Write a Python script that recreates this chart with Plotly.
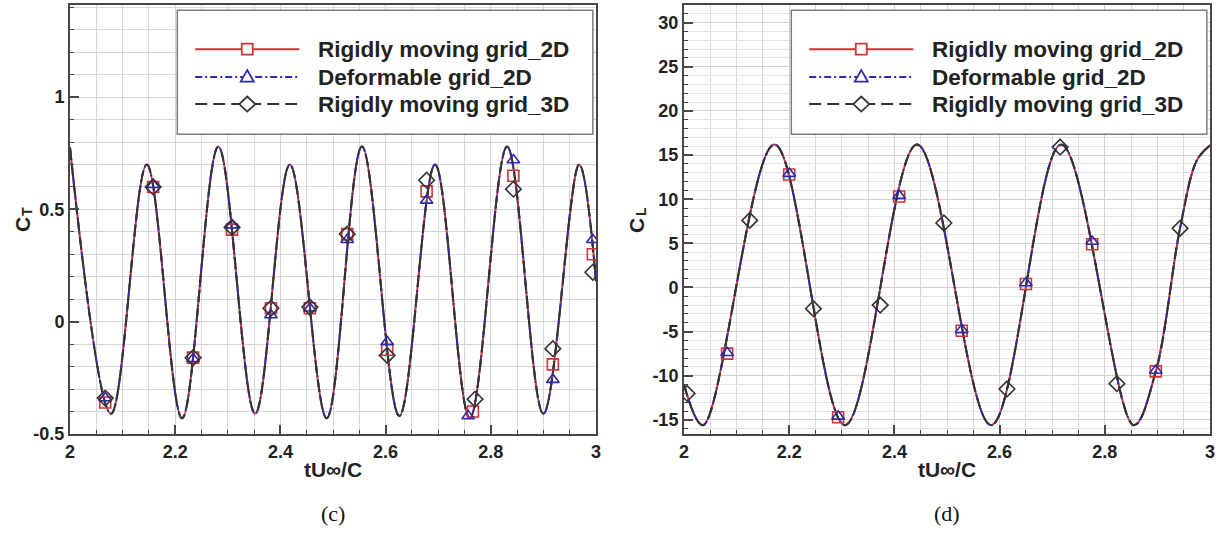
import plotly.graph_objects as go

# ---------------- data: panel (c), thrust coefficient ----------------
ct_curve_t = [2.000, 2.078, 2.146, 2.213, 2.282, 2.352, 2.418, 2.488,
              2.555, 2.626, 2.694, 2.760, 2.831, 2.900, 2.968, 3.000]
ct_curve = [0.775, -0.41, 0.70, -0.43, 0.78, -0.41, 0.70, -0.43,
            0.78, -0.42, 0.70, -0.43, 0.78, -0.41, 0.70, 0.18]

ct_t_rigid_2d = [2.067, 2.158, 2.234, 2.308, 2.382, 2.456, 2.527, 2.603, 2.678, 2.766, 2.843, 2.918, 2.994]
ct_rigid_2d = [-0.36, 0.60, -0.16, 0.41, 0.06, 0.06, 0.39, -0.125, 0.58, -0.40, 0.65, -0.19, 0.30]
ct_t_deform_2d = [2.067, 2.158, 2.234, 2.308, 2.382, 2.456, 2.527, 2.603, 2.678, 2.757, 2.843, 2.918, 2.994]
ct_deform_2d = [-0.34, 0.61, -0.165, 0.43, 0.03, 0.06, 0.365, -0.09, 0.54, -0.42, 0.72, -0.258, 0.365]
ct_t_rigid_3d = [2.067, 2.158, 2.234, 2.308, 2.382, 2.456, 2.527, 2.603, 2.678, 2.770, 2.843, 2.918, 2.994]
ct_rigid_3d = [-0.34, 0.60, -0.16, 0.42, 0.06, 0.065, 0.39, -0.15, 0.63, -0.345, 0.59, -0.12, 0.22]

# ---------------- data: panel (d), lift coefficient ----------------
cl_curve_t = [2.000, 2.036, 2.172, 2.306, 2.443, 2.584, 2.717, 2.855, 2.897, 2.943, 2.975, 3.000]
cl_curve = [-11.0, -15.6, 16.2, -15.6, 16.2, -15.6, 16.2, -15.6, -9.5, 6.7, 14.4, 16.1]

cl_t_2d = [2.082, 2.200, 2.293, 2.409, 2.528, 2.650, 2.776, 2.897]
cl_rigid_2d = [-7.5, 12.8, -14.7, 10.3, -4.9, 0.4, 4.9, -9.5]
cl_deform_2d = [-7.4, 12.9, -14.6, 10.4, -4.8, 0.5, 5.2, -9.4]
cl_t_3d = [2.006, 2.125, 2.246, 2.373, 2.494, 2.614, 2.715, 2.823, 2.943]
cl_rigid_3d = [-12.0, 7.6, -2.4, -2.0, 7.3, -11.5, 15.9, -10.9, 6.7]

series_names = ["Rigidly moving grid_2D", "Deformable grid_2D", "Rigidly moving grid_3D"]

x_tickvals = [2, 2.2, 2.4, 2.6, 2.8, 3]
x_ticktext = ["2", "2.2", "2.4", "2.6", "2.8", "3"]
ct_tickvals = [-0.5, 0, 0.5, 1]
ct_ticktext = ["-0.5", "0", "0.5", "1"]
cl_tickvals = [-15, -10, -5, 0, 5, 10, 15, 20, 25, 30]
cl_ticktext = ["-15", "-10", "-5", "0", "5", "10", "15", "20", "25", "30"]

# ---------------- styles ----------------
RED, BLUE, BLACK = "#d03535", "#2b2bab", "#333333"
FONT = "Liberation Sans"
styles = [
    dict(color=RED, dash="solid", symbol="square-open", size=11,
         path="M-5.5,-5.5 H5.5 V5.5 H-5.5 Z"),
    dict(color=BLUE, dash="7px,3px,2px,3px", symbol="triangle-up-open", size=11,
         path="M-6.5,-4.5 H6.5 L0,7 Z"),
    dict(color=BLACK, dash="12px,6px", symbol="diamond-open", size=12,
         path="M-8,0 L0,7.5 L8,0 L0,-7.5 Z"),
]

W, H = 1223, 534
fig = go.Figure()


def add_panel(xa, ya, curve_t, curve, marks):
    for st, name in zip(styles, series_names):
        fig.add_trace(go.Scatter(x=curve_t, y=curve, mode="lines", name=name,
                                 line=dict(color=st["color"], width=2, dash=st["dash"],
                                           shape="spline", smoothing=1),
                                 xaxis=xa, yaxis=ya, showlegend=False, hoverinfo="skip"))
    for st, name, (mt, mv) in zip(styles, series_names, marks):
        fig.add_trace(go.Scatter(x=mt, y=mv, mode="markers", name=name,
                                 marker=dict(symbol=st["symbol"], size=st["size"], color=st["color"],
                                             line=dict(color=st["color"], width=1.6)),
                                 xaxis=xa, yaxis=ya, showlegend=False))


add_panel("x", "y", ct_curve_t, ct_curve,
          [(ct_t_rigid_2d, ct_rigid_2d), (ct_t_deform_2d, ct_deform_2d), (ct_t_rigid_3d, ct_rigid_3d)])
add_panel("x2", "y2", cl_curve_t, cl_curve,
          [(cl_t_2d, cl_rigid_2d), (cl_t_2d, cl_deform_2d), (cl_t_3d, cl_rigid_3d)])

# ---------------- in-plot legend boxes (drawn as shapes + annotations) ----------------
LEG_X0, LEG_X1, LEG_Y0, LEG_Y1 = 0.204, 0.994, 0.699, 0.988
SAMPLE_X0, SAMPLE_XM, SAMPLE_X1 = 0.238, 0.337, 0.436
TEXT_X = 0.467
ROW_Y = [0.897, 0.832, 0.769]

shapes, annotations = [], []
for bx, by in (("x", "y"), ("x2", "y2")):
    xr, yr = f"{bx} domain", f"{by} domain"
    shapes.append(dict(type="rect", xref=xr, yref=yr, x0=LEG_X0, x1=LEG_X1, y0=LEG_Y0, y1=LEG_Y1,
                       layer="above", fillcolor="white", line=dict(color="#7d7d7d", width=1.5)))
    for st, name, ry in zip(styles, series_names, ROW_Y):
        shapes.append(dict(type="line", xref=xr, yref=yr, x0=SAMPLE_X0, x1=SAMPLE_X1, y0=ry, y1=ry,
                           layer="above", line=dict(color=st["color"], width=2, dash=st["dash"])))
        shapes.append(dict(type="path", xref=xr, yref=yr, xsizemode="pixel", ysizemode="pixel",
                           xanchor=SAMPLE_XM, yanchor=ry, path=st["path"], layer="above",
                           fillcolor="white", line=dict(color=st["color"], width=1.8)))
        annotations.append(dict(xref=xr, yref=yr, x=TEXT_X, y=ry, text=name, showarrow=False,
                                xanchor="left", yanchor="middle",
                                font=dict(family=FONT, size=22.5, color="#222", weight="bold")))

# ---------------- axes ----------------
X_DOMS = [[70 / W, 596 / W], [684 / W, 1210 / W]]
Y_DOM = [(H - 434) / H, (H - 5) / H]
AX = "#474747"
tickfont = dict(family=FONT, size=18, color="#222", weight="bold")
title_font = dict(family=FONT, size=21, color="#222", weight="bold")


def frame(**kw):
    d = dict(showline=True, linecolor=AX, linewidth=2, mirror=True, ticks="inside", ticklen=9,
             tickwidth=2, tickcolor=AX, showgrid=True, gridcolor="#d2d2d2", gridwidth=1,
             zeroline=False, tickfont=tickfont, tickmode="array", automargin=False)
    d.update(kw)
    return d


xminor = dict(dtick=0.05, tick0=2, ticks="inside", ticklen=4, tickwidth=1, tickcolor=AX,
              showgrid=True, gridcolor="#d8d8d8", gridwidth=1)
xtitle = dict(text="tU∞/C", font=title_font, standoff=2)

fig.update_layout(
    width=W, height=H, margin=dict(l=0, r=0, t=0, b=0),
    paper_bgcolor="white", plot_bgcolor="white", showlegend=False, template="none",
    xaxis=frame(title=xtitle, domain=X_DOMS[0], range=[2, 3], tickvals=x_tickvals,
                ticktext=x_ticktext, anchor="y", minor=xminor),
    yaxis=frame(domain=Y_DOM, range=[-0.5, 1.41], tickvals=ct_tickvals,
                ticktext=ct_ticktext, anchor="x",
                minor=dict(dtick=0.1, tick0=0, ticks="inside", ticklen=4, tickwidth=1,
                           tickcolor=AX, showgrid=True, gridcolor="#d8d8d8")),
    xaxis2=frame(title=xtitle, domain=X_DOMS[1], range=[2, 3], tickvals=x_tickvals,
                 ticktext=x_ticktext, anchor="y2", minor=xminor),
    yaxis2=frame(domain=Y_DOM, range=[-16.6, 32], tickvals=cl_tickvals,
                 ticktext=cl_ticktext, anchor="x2",
                 minor=dict(dtick=1, tick0=0, ticks="inside", ticklen=4, tickwidth=1,
                            tickcolor=AX, showgrid=True, gridcolor="#e3e3e3")),
    shapes=shapes,
)

# y-axis titles: "C" with a subscript letter, written as two rotated labels
for cx, sub in ((22, "T"), (636, "L")):
    annotations.append(dict(xref="paper", yref="paper", x=cx / W, y=1 - 225 / H, text="C",
                            textangle=-90, showarrow=False, xanchor="center", yanchor="middle",
                            font=title_font))
    annotations.append(dict(xref="paper", yref="paper", x=(cx + 5) / W, y=1 - 212 / H, text=sub,
                            textangle=-90, showarrow=False, xanchor="center", yanchor="middle",
                            font=dict(family=FONT, size=14, color="#222", weight="bold")))

# panel captions
for cx, cap in ((333, "(c)"), (947, "(d)")):
    annotations.append(dict(xref="paper", yref="paper", x=cx / W, y=1 - 513 / H, text=cap,
                            showarrow=False, xanchor="center", yanchor="middle",
                            font=dict(family="Liberation Serif", size=22, color="#111")))
fig.update_layout(annotations=annotations)

fig.write_html("out.html")
